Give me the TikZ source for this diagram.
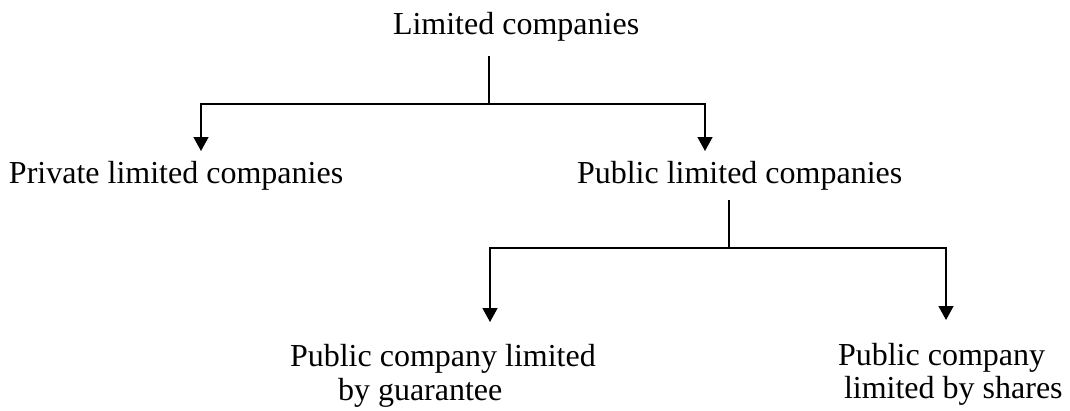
\documentclass[tikz,border=0pt]{standalone}
\usepackage{fontspec}
\setmainfont{Liberation Serif}
\usetikzlibrary{arrows.meta}
\tikzset{
  lbl/.style={inner sep=0pt, outer sep=0pt, font=\fontsize{32pt}{34pt}\selectfont, align=left},
  conn/.style={line width=1.4pt, black},
  arr/.style={conn, -{Triangle[width=15pt,length=14pt]}}
}
\begin{document}
\begin{tikzpicture}[x=1pt,y=-1pt]
\useasboundingbox (0,0) rectangle (1070,410);
% labels
\node[lbl, anchor=base west] (top) at (393,34) {Limited companies};
\node[lbl, anchor=base west] (priv) at (9,183) {Private limited companies};
\node[lbl, anchor=base west] (pub) at (577,183) {Public limited companies};
\node[lbl, anchor=base west] (guar1) at (290,366) {Public company limited};
\node[lbl, anchor=base west] (guar2) at (338,400) {by guarantee};
\node[lbl, anchor=base west] (shar1) at (838,365) {Public company};
\node[lbl, anchor=base west] (shar2) at (844,398) {limited by shares};
% connector points
\coordinate (t0) at (489,56);
\coordinate (j1) at (489,104);
\coordinate (a1) at (201,151);
\coordinate (a2) at (705,151);
\coordinate (t1) at (729,200);
\coordinate (j2) at (729,248);
\coordinate (a3) at (490,322);
\coordinate (a4) at (946,320);
% connectors
\draw[conn] (t0) -- (j1);
\draw[arr] (j1) -| (a1);
\draw[arr] (j1) -| (a2);
\draw[conn] (t1) -- (j2);
\draw[arr] (j2) -| (a3);
\draw[arr] (j2) -| (a4);
\end{tikzpicture}
\end{document}
